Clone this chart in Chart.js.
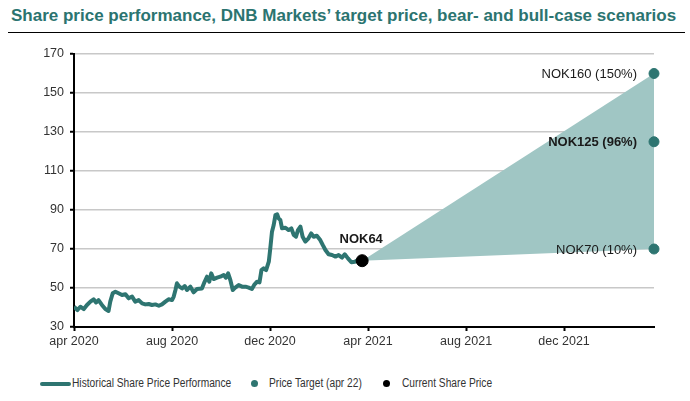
<!DOCTYPE html>
<html>
<head>
<meta charset="utf-8">
<script src="https://cdn.jsdelivr.net/npm/chart.js@4.4.1/dist/chart.umd.min.js"></script>
<style>
  body { margin: 0; background: #fff; font-family: Arial, "Liberation Sans", sans-serif; }
  #title {
    position: absolute; left: 8px; top: 6px; width: 674px;
    font-weight: bold; font-size: 17px; color: #2b7470;
    border-bottom: 1.5px solid #000; padding-bottom: 6px; padding-left: 3px;
    white-space: nowrap;
  }
  #wrap { position: absolute; left: 0; top: 40px; width: 690px; height: 320px; }
  #legend {
    position: absolute; top: 376px; left: 0; width: 690px; height: 18px;
    font-size: 12px; color: #333;
  }
  #legend span { position: absolute; top: 0; white-space: nowrap; transform: scaleX(0.85); transform-origin: left center; }
  .sw-line { position: absolute; top: 6px; width: 31px; height: 4px; background: #2e7571; border-radius: 2px; }
  .sw-dot { position: absolute; top: 4px; width: 7px; height: 7px; border-radius: 50%; }
</style>
</head>
<body>
<div id="title">Share price performance, DNB Markets’ target price, bear- and bull-case scenarios</div>
<div id="wrap"><canvas id="chart"></canvas></div>
<div id="legend">
  <div class="sw-line" style="left:40px"></div><span style="left:72px">Historical Share Price Performance</span>
  <div class="sw-dot" style="left:251px;background:#2e7571"></div><span style="left:269px">Price Target (apr 22)</span>
  <div class="sw-dot" style="left:383px;background:#000"></div><span style="left:402px">Current Share Price</span>
</div>
<script>
// x values are months after apr 2020
const histMonths = [0, 0.14, 0.26, 0.4, 0.53, 0.67, 0.8, 0.9, 1.0, 1.14, 1.28, 1.41, 1.48, 1.58, 1.69, 1.82,
  1.96, 2.1, 2.23, 2.37, 2.5, 2.64, 2.78, 2.91, 3.05, 3.18, 3.32, 3.46, 3.59, 3.73, 3.86, 4.0,
  4.07, 4.14, 4.2, 4.3, 4.41, 4.52, 4.61, 4.75, 4.88, 5.02, 5.22, 5.33, 5.43, 5.52, 5.6, 5.7,
  5.84, 5.97, 6.11, 6.2, 6.29, 6.38, 6.48, 6.58, 6.72, 6.86, 7.0, 7.13, 7.26, 7.37, 7.47, 7.57,
  7.65, 7.74, 7.84, 7.95, 8.01, 8.08, 8.15, 8.22, 8.29, 8.35, 8.42, 8.49, 8.63, 8.76, 8.87, 8.97,
  9.06, 9.14, 9.24, 9.33, 9.44, 9.57, 9.68, 9.78, 9.91, 10.05, 10.15, 10.26, 10.39, 10.53, 10.67, 10.8,
  10.94, 11.05, 11.18, 11.32, 11.46, 11.59, 11.76];
const histPrice = [40.4, 38.7, 40.4, 39.2, 41.3, 43, 44.2, 42.6, 43.8, 41.3, 39.2, 38.2, 43, 47.3, 48.1, 47.3,
  46.4, 46.8, 44.7, 45.6, 43, 43.8, 42.1, 41.6, 41.8, 41.3, 41.6, 40.9, 41.6, 43, 44.2, 43.8,
  45.6, 49, 52.4, 50.7, 49.8, 51, 49, 50.7, 47.8, 49.5, 49.8, 53.2, 55.8, 53.2, 57.5, 54.6,
  55.3, 55.8, 56.7, 55.3, 57.5, 54.1, 49, 50.2, 51.5, 50.7, 50.7, 50.2, 49.5, 51.9, 53.2, 52.9,
  59.2, 60.1, 59.2, 63.5, 70.3, 78.9, 82.3, 87.4, 87.8, 85.7, 84.9, 80.6, 80.9, 79.7, 80.6, 77.2,
  76.3, 79.7, 81.5, 76.3, 73.8, 75.5, 78, 76.3, 76.8, 74.6, 72.1, 69.5, 67.3, 66.9, 66.1, 66.9,
  65.6, 67.3, 65.2, 63.2, 63.5, 64.4, 64];

const currentMonth = 11.76;
const currentPrice = 64;
const targetMonth = 23.67;
const bullPrice = 160;
const basePrice = 125;
const bearPrice = 70;
const targetLabels = ['NOK160 (150%)', 'NOK125 (96%)', 'NOK70 (10%)'];
const currentLabel = 'NOK64';

const xTickValues = [0, 4, 8, 12, 16, 20];
const xTickLabels = ['apr 2020', 'aug 2020', 'dec 2020', 'apr 2021', 'aug 2021', 'dec 2021'];
const yTicks = [30, 50, 70, 90, 110, 130, 150, 170];

const teal = '#2e7571';
const histData = histMonths.map((m, i) => ({ x: m, y: histPrice[i] }));

const labelPlugin = {
  id: 'pointLabels',
  afterDatasetsDraw(chart) {
    const ctx = chart.ctx;
    ctx.save();
    ctx.fillStyle = '#1a1a1a';
    ctx.textAlign = 'right';
    ctx.textBaseline = 'middle';
    const pts = chart.getDatasetMeta(3).data;
    pts.forEach((p, i) => {
      ctx.font = (i === 1 ? 'bold ' : '') + '13px Arial, "Liberation Sans", sans-serif';
      ctx.fillText(targetLabels[i], p.x - 17, p.y + 1);
    });
    const c = chart.getDatasetMeta(4).data[0];
    ctx.textAlign = 'center';
    ctx.font = 'bold 13px Arial, "Liberation Sans", sans-serif';
    ctx.fillText(currentLabel, c.x - 1, c.y - 21);
    ctx.restore();
  }
};

new Chart(document.getElementById('chart'), {
  type: 'scatter',
  data: {
    datasets: [
      {
        label: 'bull edge', order: 10,
        data: [{ x: currentMonth, y: currentPrice }, { x: targetMonth, y: bullPrice }],
        showLine: true, borderWidth: 0, pointRadius: 0, borderColor: 'rgba(0,0,0,0)'
      },
      {
        label: 'bear edge', order: 9,
        data: [{ x: currentMonth, y: currentPrice }, { x: targetMonth, y: bearPrice }],
        showLine: true, borderWidth: 0, pointRadius: 0, borderColor: 'rgba(0,0,0,0)',
        fill: '-1', backgroundColor: '#a0c6c4'
      },
      {
        label: 'Historical Share Price Performance', order: 2,
        data: histData,
        showLine: true, borderColor: teal, borderWidth: 4, pointRadius: 0, tension: 0,
        borderJoinStyle: 'round'
      },
      {
        label: 'Price Target (apr 22)', order: 1, clip: false,
        data: [{ x: targetMonth, y: bullPrice }, { x: targetMonth, y: basePrice }, { x: targetMonth, y: bearPrice }],
        pointRadius: 5, backgroundColor: teal, borderColor: teal
      },
      {
        label: 'Current Share Price', order: 0, clip: false,
        data: [{ x: currentMonth, y: currentPrice }],
        pointRadius: 6, backgroundColor: '#000', borderColor: '#000'
      }
    ]
  },
  options: {
    responsive: true,
    maintainAspectRatio: false,
    animation: false,
    layout: { padding: { top: 14, right: 36, left: 0, bottom: 0 } },
    plugins: { legend: { display: false }, tooltip: { enabled: false } },
    scales: {
      x: {
        type: 'linear', min: 0, max: targetMonth,
        afterBuildTicks: s => { s.ticks = xTickValues.map(v => ({ value: v })); },
        afterFit: s => { s.height = 33; },
        border: { color: '#000', width: 2 },
        grid: { drawOnChartArea: false, tickLength: 4, tickColor: '#000', tickWidth: 2 },
        ticks: {
          padding: 3, color: '#333', maxRotation: 0,
          font: { family: 'Arial, "Liberation Sans", sans-serif', size: 12.5 },
          callback: v => xTickLabels[xTickValues.indexOf(v)]
        }
      },
      y: {
        min: 30, max: 170,
        afterBuildTicks: s => { s.ticks = yTicks.map(v => ({ value: v })); },
        afterFit: s => { s.width = 74; },
        border: { color: '#000', width: 2 },
        grid: { color: '#c8c8c8', lineWidth: 1.5, tickLength: 4, tickColor: '#000', tickWidth: 2 },
        ticks: {
          padding: 6, color: '#333',
          font: { family: 'Arial, "Liberation Sans", sans-serif', size: 12.5 }
        }
      }
    }
  },
  plugins: [labelPlugin]
});
</script>
</body>
</html>
